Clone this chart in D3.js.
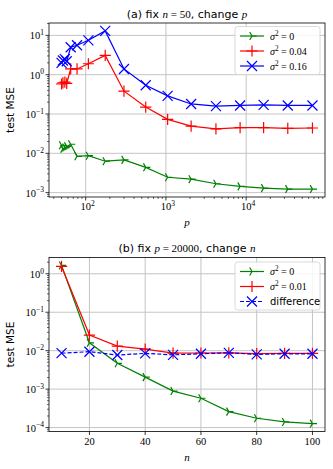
<!DOCTYPE html>
<html>
<head>
<meta charset="utf-8">
<script src="https://cdn.jsdelivr.net/npm/d3@7"></script>
<style>
  body { margin: 0; background: #fff; }
  svg { display: block; }
</style>
</head>
<body>
<svg id="chart" width="333" height="469"></svg>
<script>
// panel (a): fix n = 50, change p
const pValues = [50, 52, 55, 58, 65, 78, 108, 175, 300, 560, 1050, 2060, 4200, 8400, 16500, 33000, 67000]
const mseNoise0 = [0.016, 0.013, 0.014, 0.015, 0.017, 0.0084, 0.0087, 0.0063, 0.0068, 0.0044, 0.00246, 0.0022, 0.00168, 0.00144, 0.0013, 0.00123, 0.00123]
const mseNoise004 = [0.58, 0.62, 0.65, 0.6, 1.4, 1.4, 1.9, 3.1, 0.38, 0.15, 0.073, 0.049, 0.042, 0.045, 0.045, 0.043, 0.044]
const mseNoise016 = [2.0, 2.3, 2.5, 2.2, 5.0, 5.6, 7.5, 13, 1.4, 0.54, 0.29, 0.18, 0.158, 0.165, 0.17, 0.165, 0.165]

// panel (b): fix p = 20000, change n
const nValues = [10, 20, 30, 40, 50, 60, 70, 80, 90, 100]
const mseN0 = [1.65, 0.016, 0.0047, 0.00205, 0.00089, 0.00058, 0.00026, 0.000175, 0.00014, 0.000127]
const mseN001 = [1.55, 0.0255, 0.0132, 0.011, 0.0086, 0.0087, 0.0088, 0.0084, 0.0085, 0.0085]
const mseDiff = [0.0086, 0.0094, 0.0077, 0.0085, 0.0078, 0.0083, 0.0088, 0.008, 0.0083, 0.0083]

const xTicksA = [100, 1000, 10000]
const yTicksA = [1e-3, 1e-2, 1e-1, 1, 10]
const xTicksB = [20, 40, 60, 80, 100]
const yTicksB = [1e-4, 1e-3, 1e-2, 1e-1, 1]

const sans = "DejaVu Sans, sans-serif"
const serif = "Liberation Serif, DejaVu Serif, serif"
const green = "#008000", red = "#ff0000", blue = "#0000ff"

const svg = d3.select("#chart")

function markerPath(type, r) {
  if (type === 'tri') {
    return `M0,0L${r},0M0,0L${-r/2},${-r*0.866}M0,0L${-r/2},${r*0.866}`
  } else if (type === 'plus') {
    return `M${-r},0H${r}M0,${-r}V${r}`
  } else {
    return `M${-r},${-r}L${r},${r}M${-r},${r}L${r},${-r}`
  }
}

function markerSize(type) {
  if (type === 'tri') return 4.6
  else if (type === 'plus') return 5.6
  else return 5
}

// log domain with matplotlib-like 5% margins
function logPad(values) {
  const ext = d3.extent(values).map(Math.log10)
  const m = (ext[1] - ext[0]) * 0.05
  return [Math.pow(10, ext[0] - m), Math.pow(10, ext[1] + m)]
}

function mathText(g, parts, x, y, size, anchor) {
  const t = g.append("text")
    .attr("x", x).attr("y", y)
    .attr("text-anchor", anchor || "start")
    .attr("font-size", size)
    .attr("fill", "#000")
  parts.forEach(p => {
    const ts = t.append("tspan").text(p.t)
      .attr("font-family", p.m ? serif : sans)
    if (p.i) ts.attr("font-style", "italic")
    if (p.sup) ts.attr("font-size", size * 0.72).attr("dy", -size * 0.4)
    if (p.down) ts.attr("dy", size * 0.4)
  })
  return t
}

function powLabel(v) {
  const e = Math.round(Math.log10(v))
  const s = e < 0 ? "\u2212" + (-e) : "" + e
  return [{t: "10", m: true}, {t: s, m: true, sup: true}]
}

function drawPanel(cfg) {
  const g = svg.append("g")
  const {left, right, top, bottom} = cfg.box
  const x = cfg.x, y = cfg.y

  // grid
  cfg.xTicks.forEach(v => {
    g.append("line").attr("x1", x(v)).attr("x2", x(v)).attr("y1", top).attr("y2", bottom)
      .attr("stroke", "#c4c4c4").attr("stroke-width", 1)
  })
  cfg.yTicks.forEach(v => {
    g.append("line").attr("x1", left).attr("x2", right).attr("y1", y(v)).attr("y2", y(v))
      .attr("stroke", "#c4c4c4").attr("stroke-width", 1)
  })

  // series
  const plot = g.append("g")
  cfg.series.forEach(s => {
    const pts = cfg.xs.map((v, i) => [x(v), y(s.values[i])])
    plot.append("path")
      .attr("d", d3.line()(pts))
      .attr("fill", "none")
      .attr("stroke", s.color)
      .attr("stroke-width", 1.2)
      .attr("stroke-dasharray", s.dash ? "4,2" : null)
    plot.selectAll(null).data(pts).enter().append("path")
      .attr("transform", d => `translate(${d[0]},${d[1]})`)
      .attr("d", markerPath(s.marker, markerSize(s.marker)))
      .attr("fill", "none")
      .attr("stroke", s.color)
      .attr("stroke-width", 1.2)
  })

  // minor ticks on log axes
  if (cfg.xLog) {
    const [d0, d1] = x.domain()
    for (let e = Math.floor(Math.log10(d0)); e <= Math.ceil(Math.log10(d1)); e++) {
      for (let k = 2; k <= 9; k++) {
        const v = k * Math.pow(10, e)
        if (v < d0 || v > d1) continue
        g.append("line").attr("x1", x(v)).attr("x2", x(v)).attr("y1", bottom).attr("y2", bottom + 2)
          .attr("stroke", "#000").attr("stroke-width", 0.6)
      }
    }
  }
  {
    const [d0, d1] = y.domain()
    for (let e = Math.floor(Math.log10(d0)); e <= Math.ceil(Math.log10(d1)); e++) {
      for (let k = 2; k <= 9; k++) {
        const v = k * Math.pow(10, e)
        if (v < d0 || v > d1) continue
        g.append("line").attr("x1", left - 2).attr("x2", left).attr("y1", y(v)).attr("y2", y(v))
          .attr("stroke", "#000").attr("stroke-width", 0.6)
      }
    }
  }

  // major ticks and labels
  cfg.xTicks.forEach(v => {
    g.append("line").attr("x1", x(v)).attr("x2", x(v)).attr("y1", bottom).attr("y2", bottom + 3.5)
      .attr("stroke", "#000").attr("stroke-width", 0.8)
    if (cfg.xLog) mathText(g, powLabel(v), x(v) + 2, bottom + 13, 10.5, "middle")
    else mathText(g, [{t: "" + v, m: true}], x(v), bottom + 13.5, 10.5, "middle")
  })
  cfg.yTicks.forEach(v => {
    g.append("line").attr("x1", left - 3.5).attr("x2", left).attr("y1", y(v)).attr("y2", y(v))
      .attr("stroke", "#000").attr("stroke-width", 0.8)
    mathText(g, powLabel(v), left - 5, y(v) + 4, 10.5, "end")
  })

  // frame
  g.append("rect").attr("x", left).attr("y", top).attr("width", right - left).attr("height", bottom - top)
    .attr("fill", "none").attr("stroke", "#000").attr("stroke-width", 0.8)

  // title and labels
  mathText(g, cfg.title, (left + right) / 2, top - 5.5, 11, "middle")
  mathText(g, [{t: cfg.xLabel, m: true, i: true}], (left + right) / 2, bottom + 29, 11, "middle")
  g.append("text")
    .attr("transform", `translate(14,${(top + bottom) / 2}) rotate(-90)`)
    .attr("text-anchor", "middle")
    .attr("font-family", sans).attr("font-size", 10.5)
    .text("test MSE")

  // legend
  const lg = g.append("g")
  const lx = cfg.legend.x, ly = cfg.legend.y
  lg.append("rect").attr("x", lx).attr("y", ly).attr("width", 85).attr("height", 48).attr("rx", 2.5)
    .attr("fill", "rgba(255,255,255,0.85)").attr("stroke", "#d0d0d0").attr("stroke-width", 0.8)
  cfg.series.forEach((s, i) => {
    const ry = ly + 9.5 + i * 15
    lg.append("line").attr("x1", lx + 5).attr("x2", lx + 29).attr("y1", ry).attr("y2", ry)
      .attr("stroke", s.color).attr("stroke-width", 1.2)
      .attr("stroke-dasharray", s.dash ? "4,2" : null)
    lg.append("path").attr("transform", `translate(${lx + 17},${ry})`)
      .attr("d", markerPath(s.marker, markerSize(s.marker)))
      .attr("fill", "none").attr("stroke", s.color).attr("stroke-width", 1.2)
    mathText(lg, s.label, lx + 35, ry + 3.5, 10, "start")
  })
}

function sigmaLabel(val) {
  return [{t: "\u03c3", m: true, i: true}, {t: "2", m: true, sup: true}, {t: " = " + val, m: true, down: true}]
}

const boxA = {left: 49, right: 325, top: 23, bottom: 197}
drawPanel({
  box: boxA,
  x: d3.scaleLog().domain(logPad(pValues)).range([boxA.left, boxA.right]),
  y: d3.scaleLog().domain(logPad(mseNoise0.concat(mseNoise016))).range([boxA.bottom, boxA.top]),
  xLog: true,
  xs: pValues,
  xTicks: xTicksA,
  yTicks: yTicksA,
  title: [{t: "(a) fix "}, {t: "n", m: true, i: true}, {t: " = 50", m: true}, {t: ", change "}, {t: "p", m: true, i: true}],
  xLabel: "p",
  legend: {x: 235, y: 26.5},
  series: [
    {values: mseNoise0, color: green, marker: 'tri', label: sigmaLabel("0")},
    {values: mseNoise004, color: red, marker: 'plus', label: sigmaLabel("0.04")},
    {values: mseNoise016, color: blue, marker: 'x', label: sigmaLabel("0.16")}
  ]
})

const boxB = {left: 49, right: 325, top: 257.5, bottom: 431.5}
drawPanel({
  box: boxB,
  x: d3.scaleLinear().domain([5.5, 104.5]).range([boxB.left, boxB.right]),
  y: d3.scaleLog().domain(logPad(mseN0.concat(mseN001))).range([boxB.bottom, boxB.top]),
  xLog: false,
  xs: nValues,
  xTicks: xTicksB,
  yTicks: yTicksB,
  title: [{t: "(b) fix "}, {t: "p", m: true, i: true}, {t: " = 20000", m: true}, {t: ", change "}, {t: "n", m: true, i: true}],
  xLabel: "n",
  legend: {x: 235, y: 262},
  series: [
    {values: mseN0, color: green, marker: 'tri', label: sigmaLabel("0")},
    {values: mseN001, color: red, marker: 'plus', label: sigmaLabel("0.01")},
    {values: mseDiff, color: blue, marker: 'x', dash: true, label: [{t: "difference"}]}
  ]
})
</script>
</body>
</html>
